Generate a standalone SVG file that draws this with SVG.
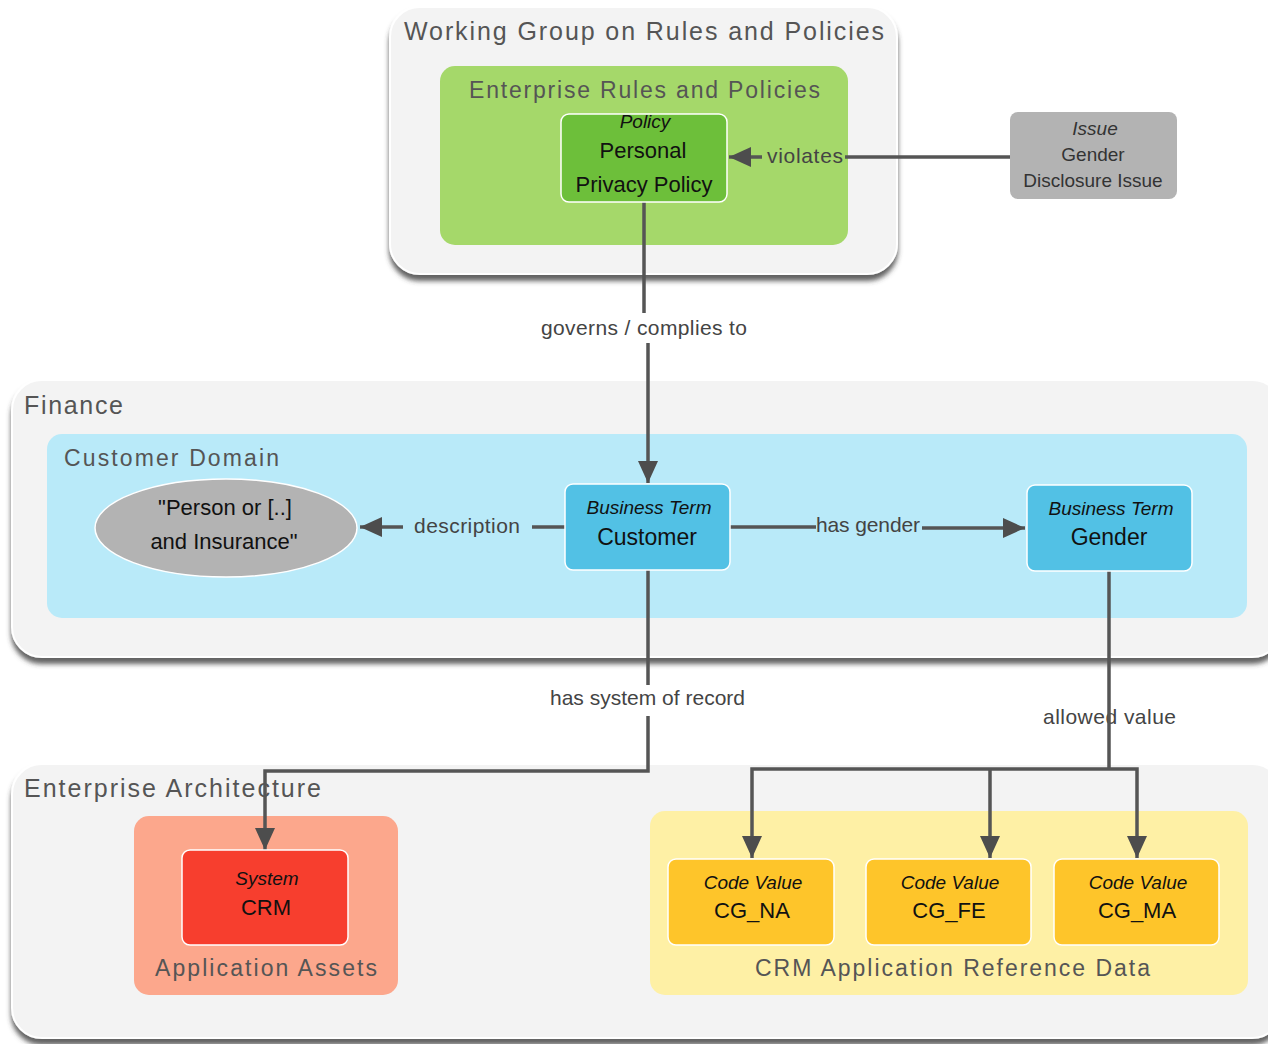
<svg xmlns="http://www.w3.org/2000/svg" width="1268" height="1044" viewBox="0 0 1268 1044">
<defs>
<filter id="sh" x="-5%" y="-5%" width="110%" height="115%">
<feDropShadow dx="0" dy="6" stdDeviation="2.5" flood-color="#3a3a3a" flood-opacity="0.8"/>
</filter>
<marker id="ar" markerUnits="userSpaceOnUse" markerWidth="24" markerHeight="20" refX="22" refY="10" orient="auto">
<path d="M0,0 L22,10 L0,20 Z" fill="#4d4d4d"/>
</marker>
<style>
.cont{fill:#f3f3f3;stroke:#fff;stroke-width:2;filter:url(#sh)}
.ttl{font-family:"Liberation Sans",Arial,sans-serif;fill:#555;font-size:25px}
.sub{font-family:"Liberation Sans",Arial,sans-serif;fill:#555;font-size:23px}
.node{stroke:#fff;stroke-width:1.5}
.it{font-family:"Liberation Sans",Arial,sans-serif;font-style:italic;font-size:19px;fill:#111;text-anchor:middle}
.nm{font-family:"Liberation Sans",Arial,sans-serif;font-size:22px;fill:#111;text-anchor:middle}
.lbl{font-family:"Liberation Sans",Arial,sans-serif;font-size:21px;fill:#444}
.ln{fill:none;stroke:#555;stroke-width:3.5}
</style>
</defs>
<rect width="1268" height="1044" fill="#fff"/>

<g id="wg">
<rect class="cont" x="390" y="7" width="507" height="267" rx="30"/>
<text class="ttl" x="404" y="40" textLength="480" lengthAdjust="spacing">Working Group on Rules and Policies</text>
</g>
<g id="erp">
<rect x="440" y="66" width="408" height="179" rx="15" fill="#a5d86a"/>
<text class="sub" x="469" y="98" textLength="351" lengthAdjust="spacing">Enterprise Rules and Policies</text>
</g>

<g id="finance">
<rect class="cont" x="12" y="380" width="1270" height="277" rx="30"/>
<text class="ttl" x="24" y="414" textLength="99" lengthAdjust="spacing">Finance</text>
</g>
<g id="custdomain">
<rect x="47" y="434" width="1200" height="184" rx="15" fill="#b9eaf9"/>
<text class="sub" x="64" y="466" textLength="215" lengthAdjust="spacing">Customer Domain</text>
</g>

<g id="ea">
<rect class="cont" x="12" y="764" width="1270" height="274" rx="30"/>
<text class="ttl" x="24" y="797" textLength="297" lengthAdjust="spacing">Enterprise Architecture</text>
</g>
<g id="appassets">
<rect x="134" y="816" width="264" height="179" rx="15" fill="#fca78c"/>
<text class="sub" x="155" y="976" textLength="222" lengthAdjust="spacing">Application Assets</text>
</g>
<g id="crmref">
<rect x="650" y="811" width="598" height="184" rx="15" fill="#fef0a5"/>
<text class="sub" x="755" y="976" textLength="395" lengthAdjust="spacing">CRM Application Reference Data</text>
</g>

<g id="connectors">
<line class="ln" x1="1010" y1="157" x2="845" y2="157"/>
<line class="ln" x1="762" y1="157" x2="729" y2="157" marker-end="url(#ar)"/>
<text class="lbl" x="767" y="163" textLength="76" lengthAdjust="spacing">violates</text>

<line class="ln" x1="644" y1="202" x2="644" y2="313"/>
<line class="ln" x1="648" y1="343" x2="648" y2="483" marker-end="url(#ar)"/>
<text class="lbl" x="541" y="335" textLength="206" lengthAdjust="spacing">governs / complies to</text>

<line class="ln" x1="565" y1="527" x2="532" y2="527"/>
<line class="ln" x1="403" y1="527" x2="360" y2="527" marker-end="url(#ar)"/>
<text class="lbl" x="414" y="533" textLength="106" lengthAdjust="spacing">description</text>

<line class="ln" x1="730" y1="527" x2="816" y2="527"/>
<line class="ln" x1="922" y1="528" x2="1025" y2="528" marker-end="url(#ar)"/>
<text class="lbl" x="816" y="532" textLength="104" lengthAdjust="spacing">has gender</text>

<line class="ln" x1="648" y1="570" x2="648" y2="685"/>
<path class="ln" d="M648,716 L648,771 L265,771 L265,850" marker-end="url(#ar)"/>
<text class="lbl" x="550" y="705" textLength="195" lengthAdjust="spacing">has system of record</text>

<text class="lbl" x="1043" y="724" textLength="133" lengthAdjust="spacing">allowed value</text>
<line class="ln" x1="1109" y1="571" x2="1109" y2="769"/>
<path class="ln" d="M1109,769 L752,769 L752,858" marker-end="url(#ar)"/>
<path class="ln" d="M990,769 L990,858" marker-end="url(#ar)"/>
<path class="ln" d="M1109,769 L1137,769 L1137,858" marker-end="url(#ar)"/>
</g>

<g id="policy">
<rect class="node" x="561" y="114" width="166" height="88" rx="8" fill="#6dbf3a"/>
<text class="it" x="645" y="128">Policy</text>
<text class="nm" x="643" y="158">Personal</text>
<text class="nm" x="644" y="192">Privacy Policy</text>
</g>

<g id="issue">
<rect x="1010" y="112" width="167" height="87" rx="8" fill="#b3b3b3"/>
<text class="it" x="1095" y="135" style="fill:#333">Issue</text>
<text class="it" x="1093" y="161" style="font-style:normal;fill:#333">Gender</text>
<text class="it" x="1093" y="187" style="font-style:normal;fill:#333">Disclosure Issue</text>
</g>

<g id="desc">
<ellipse cx="226" cy="528" rx="131" ry="49" fill="#b3b3b3" stroke="#fff" stroke-width="1.5"/>
<text class="nm" x="225" y="515">"Person or [..]</text>
<text class="nm" x="224" y="549">and Insurance"</text>
</g>

<g id="customer">
<rect class="node" x="565" y="484" width="165" height="86" rx="8" fill="#52c1e5"/>
<text class="it" x="649" y="514">Business Term</text>
<text class="nm" x="647" y="545" style="font-size:23px">Customer</text>
</g>

<g id="gender">
<rect class="node" x="1027" y="485" width="165" height="86" rx="8" fill="#52c1e5"/>
<text class="it" x="1111" y="515">Business Term</text>
<text class="nm" x="1109" y="545" style="font-size:23px">Gender</text>
</g>

<g id="crm">
<rect class="node" x="182" y="850" width="166" height="95" rx="8" fill="#f73e2e"/>
<text class="it" x="267" y="885">System</text>
<text class="nm" x="266" y="915">CRM</text>
</g>

<g id="cg_na">
<rect class="node" x="668" y="859" width="166" height="86" rx="8" fill="#fec52a"/>
<text class="it" x="753" y="889">Code Value</text>
<text class="nm" x="752" y="918">CG_NA</text>
</g>
<g id="cg_fe">
<rect class="node" x="866" y="859" width="165" height="86" rx="8" fill="#fec52a"/>
<text class="it" x="950" y="889">Code Value</text>
<text class="nm" x="949" y="918">CG_FE</text>
</g>
<g id="cg_ma">
<rect class="node" x="1054" y="859" width="165" height="86" rx="8" fill="#fec52a"/>
<text class="it" x="1138" y="889">Code Value</text>
<text class="nm" x="1137" y="918">CG_MA</text>
</g>
</svg>
